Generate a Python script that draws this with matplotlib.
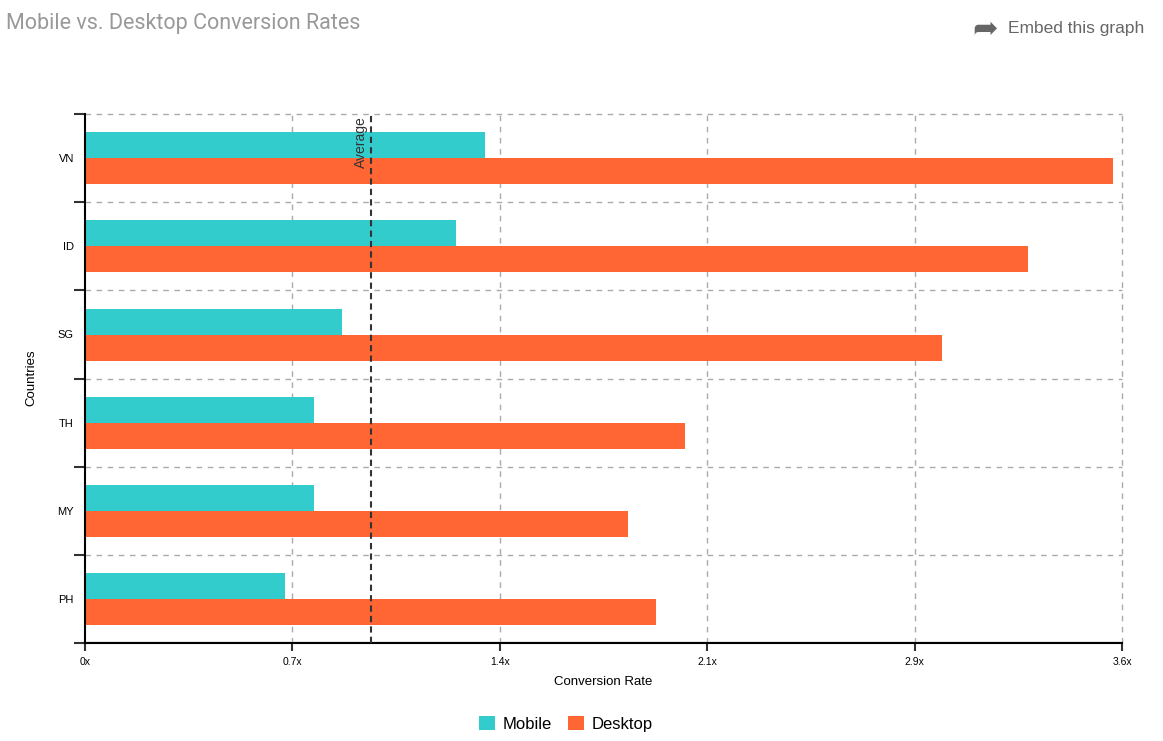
import matplotlib.pyplot as plt
from matplotlib.ticker import FixedLocator

COLORS = {
    'mobile': '#33CCCC',
    'desktop': '#FF6633',
    'grid': '#AAAAAA',
    'title': '#999999',
    'embed': '#666666',
}

countries = ['VN', 'ID', 'SG', 'TH', 'MY', 'PH']
mobile = [1.377, 1.277, 0.885, 0.788, 0.788, 0.688]
desktop = [3.539, 3.246, 2.950, 2.065, 1.869, 1.966]
average = 0.985
x_max = 3.57
x_tick_labels = ['0x', '0.7x', '1.4x', '2.1x', '2.9x', '3.6x']

plt.rcParams['font.family'] = ['Liberation Sans', 'DejaVu Sans']

fig = plt.figure(figsize=(11.63, 7.41), dpi=100)
ax = fig.add_axes([85 / 1163, 1 - 643 / 741, (1122 - 85) / 1163, (643 - 114) / 741])

pos = list(range(len(countries)))
bar_h = 0.295
ax.barh([p - 0.145 for p in pos], mobile, height=bar_h, color=COLORS['mobile'], label='Mobile', zorder=2)
ax.barh([p + 0.15 for p in pos], desktop, height=bar_h, color=COLORS['desktop'], label='Desktop', zorder=2)

ax.set_ylim(len(countries) - 0.5, -0.5)
ax.set_xlim(0, x_max)

# grid: vertical at x ticks, horizontal at category boundaries
x_ticks = [x_max * k / 5 for k in range(6)]
ax.set_xticks(x_ticks)
ax.set_xticklabels(x_tick_labels)
for xt in x_ticks[1:]:
    ax.axvline(xt, color=COLORS['grid'], lw=1, ls=(0, (4, 4)), zorder=1, clip_on=False)
bounds = [p - 0.5 for p in pos] + [len(countries) - 0.5]
for b in bounds[:-1]:
    ax.axhline(b, color=COLORS['grid'], lw=1, ls=(0, (4, 4)), zorder=1, clip_on=False)
ax.axhline(bounds[-1] - 0.012, color='#BBBBBB', lw=1, zorder=1)

ax.yaxis.set_major_locator(FixedLocator(bounds))
ax.yaxis.set_minor_locator(FixedLocator(pos))
ax.set_yticklabels([''] * len(bounds))
ax.set_yticklabels(countries, minor=True)
ax.tick_params(axis='y', which='major', direction='out', length=8, width=1.5, color='#333333')
ax.tick_params(axis='y', which='minor', length=0, pad=8, labelsize=8)
ax.tick_params(axis='x', direction='out', length=6, width=1.5, color='#333333', labelsize=7.5, pad=4)

for side in ['top', 'right']:
    ax.spines[side].set_visible(False)
ax.spines['left'].set_linewidth(1.5)
ax.spines['bottom'].set_linewidth(1.5)
ax.spines['left'].set_zorder(3)
ax.spines['bottom'].set_zorder(3)

# average marker
ax.axvline(average, color='#333333', lw=1.5, ls=(0, (3, 2)), zorder=4)
ax.text(average - 0.012, -0.47, 'Average', rotation=90, ha='right', va='top',
        fontsize=10, color='#333333', zorder=5)

ax.set_xlabel('Conversion Rate', fontsize=9.5)
ax.xaxis.set_label_coords((603 - 85) / (1122 - 85), -(676 - 643) / (643 - 114))
ax.set_ylabel('Countries', fontsize=9.5)
ax.yaxis.set_label_coords(-(85 - 37) / (1122 - 85), (643 - 378) / (643 - 114))

fig.text(6 / 1163, 1 - 23 / 741, 'Mobile vs. Desktop Conversion Rates', fontsize=15.5,
         color=COLORS['title'], family=['Roboto', 'DejaVu Sans'], va='center')
fig.text(1144 / 1163, 1 - 29 / 741, 'Embed this graph', fontsize=12.5, color=COLORS['embed'],
         ha='right', va='center')
fig.text(998 / 1163, 1 - 29 / 741, '\u27a6', fontsize=22, color=COLORS['embed'],
         ha='right', va='center', family=['DejaVu Sans'])

fig.legend(loc='center', bbox_to_anchor=(566 / 1163, 1 - 724 / 741), ncol=2, frameon=False,
           fontsize=12, handlelength=0.95, handleheight=0.95, handletextpad=0.45, columnspacing=1.0)

fig.savefig('out.png', dpi=100)
